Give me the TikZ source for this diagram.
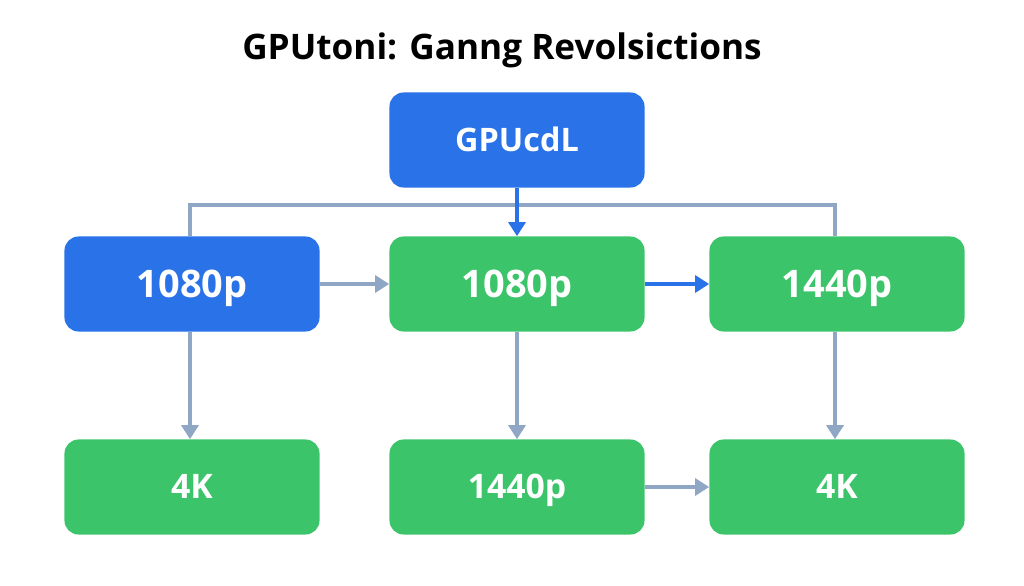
\documentclass[tikz,border=0pt]{standalone}
\usepackage{fontspec}
\setmainfont{Open Sans}
\usetikzlibrary{arrows.meta}
\definecolor{bl}{HTML}{2A72E8}
\definecolor{gr}{HTML}{3CC46A}
\definecolor{ln}{HTML}{8FA6C4}
\begin{document}
\begin{tikzpicture}[x=0.025cm,y=-0.025cm,
 box/.style={rounded corners=10pt,minimum width=6.375cm,minimum height=2.375cm,text=white,font=\bfseries\fontsize{27}{30}\selectfont,inner sep=0,text height=19pt,text depth=0pt},
 con/.style={line width=3pt,ln,-{Triangle[length=10pt,width=12pt]}},
 bcon/.style={line width=3pt,bl,-{Triangle[length=10pt,width=12pt]}}]
\useasboundingbox (0,0) rectangle (1024,585);
\node[font=\bfseries\fontsize{25}{28}\selectfont] (title) at (502,50) {GPUtoni: Ganng Revolsictions};
\node[box,fill=bl,font=\bfseries\fontsize{23}{26}\selectfont,text height=16.5pt] (top) at (517,140) {GPUcdL};
\node[box,fill=bl] (a1) at (192,284) {1080p};
\node[box,fill=gr] (a2) at (517,284) {1080p};
\node[box,fill=gr] (a3) at (837,284) {1440p};
\node[box,fill=gr,font=\bfseries\fontsize{24}{28}\selectfont,text height=17pt] (b1) at (192,487) {4K};
\node[box,fill=gr,font=\bfseries\fontsize{24}{28}\selectfont,text height=17pt] (b2) at (517,487) {1440p};
\node[box,fill=gr,font=\bfseries\fontsize{24}{28}\selectfont,text height=17pt] (b3) at (837,487) {4K};
\coordinate (hl) at (190,205); \coordinate (hr) at (835,205);
\draw[line width=3pt,ln] (a1.north -| hl) -- (hl) -- (hr) -- (a3.north -| hr);
\draw[bcon] (top) -- (a2);
\draw[con] (a1) -- (a2);
\draw[bcon] (a2) -- (a3);
\draw[con] (a1.south -| hl) -- (b1.north -| hl);
\draw[con] (a2) -- (b2);
\draw[con] (a3.south -| hr) -- (b3.north -| hr);
\draw[con] (b2) -- (b3);
\end{tikzpicture}
\end{document}
